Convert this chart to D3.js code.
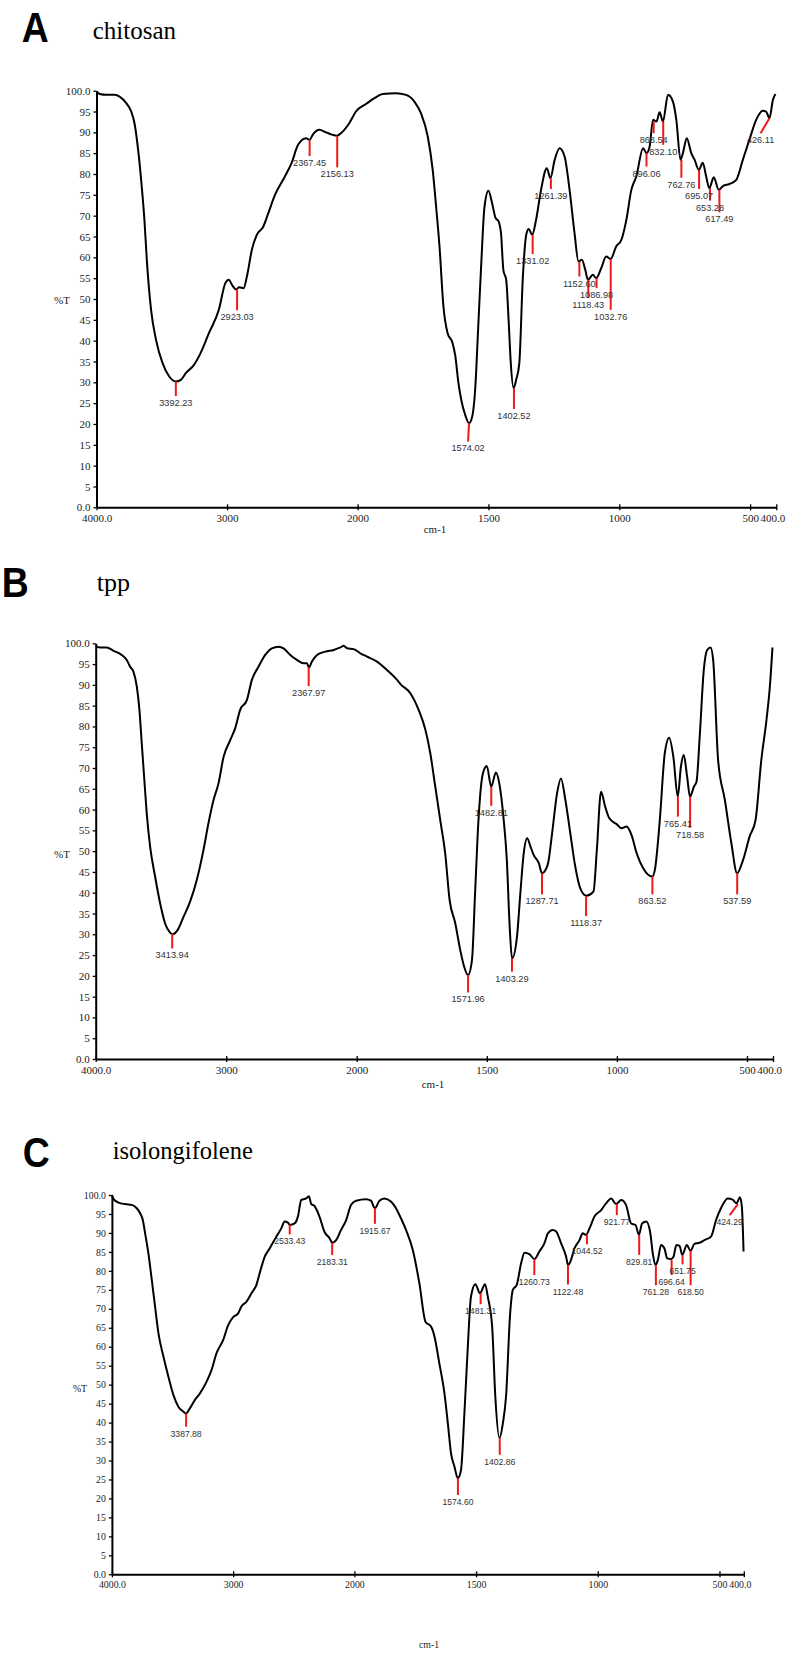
<!DOCTYPE html>
<html><head><meta charset="utf-8">
<script src="https://cdn.jsdelivr.net/npm/d3@7"></script>
<style>body{margin:0;background:#fff}svg{display:block}</style>
</head><body><svg id="c" width="787" height="1654"></svg>
<script>
// ---------- DATA ----------
const panelLetters = ["A", "B", "C"];
const panelTitles = ["chitosan", "tpp", "isolongifolene"];
const xTickValues = [4000, 3000, 2000, 1500, 1000, 500, 400];
const xTickLabels = ["4000.0", "3000", "2000", "1500", "1000", "500", "400.0"];
const yTickValues = [0,5,10,15,20,25,30,35,40,45,50,55,60,65,70,75,80,85,90,95,100];
const yTickLabels = ["0.0","5","10","15","20","25","30","35","40","45","50","55","60","65","70","75","80","85","90","95","100.0"];
const xAxisTitle = "cm-1";
const yAxisTitle = "%T";

// spectra: [wavenumber, %T]
const chitosan = [[4000,99.8],[3975,99.2],[3924,99],[3861,99],[3823,98.6],[3772,97],[3734,95],[3709,92.2],[3684,86.6],[3658,78.6],[3633,69],[3613,58.6],[3582,47.4],[3544,40.2],[3494,34.6],[3443,31.4],[3392,30.2],[3354,30.6],[3316,32.2],[3253,34.2],[3203,37],[3139,41.8],[3063,47.4],[3013,53.8],[2987,54.6],[2962,53.4],[2932,52.3],[2906,52.8],[2873,52.6],[2848,55.4],[2810,61.8],[2772,65.4],[2722,67.4],[2684,70.6],[2633,75],[2557,79.4],[2506,82.6],[2456,87],[2395,88.6],[2368,88.2],[2344,89.4],[2293,90.6],[2242,90],[2191,89.4],[2158,89.2],[2128,89.8],[2064,92.2],[2013,95],[1968,96.8],[1936,98.2],[1904,99.2],[1853,99.4],[1815,99],[1783,97.4],[1758,94.6],[1732,89],[1713,81],[1700,72.2],[1687,62.6],[1672,48.2],[1656,41.8],[1638,39.6],[1627,36.5],[1615,30],[1603,25.5],[1590,22.4],[1574,20.2],[1562,21.8],[1550,29],[1540,42],[1528,57.8],[1515,72.2],[1500,76],[1486,73],[1473,69.5],[1461,68.6],[1452,65.8],[1443,57],[1432,54.5],[1423,45],[1415,35],[1404,28.6],[1394,30.6],[1382,34.6],[1369,54.6],[1355,65.6],[1346,66.8],[1333,65.4],[1318,69],[1299,76.2],[1277,81.4],[1263,79],[1247,83.4],[1228,86.2],[1209,84.2],[1190,76.2],[1171,65.8],[1156,59],[1143,59.4],[1130,57],[1120,54.6],[1101,55.8],[1088,55],[1069,57.4],[1050,60.2],[1033,59.6],[1012,62.6],[992,64.2],[973,69],[954,76.2],[935,79.4],[909,86.2],[896,85],[884,86.6],[871,93],[858,92.6],[846,94.8],[833,92.6],[814,99],[795,97.4],[782,93],[766,83.4],[757,85],[742,88.6],[725,85],[712,83.4],[696,81],[681,82.7],[668,79.4],[656,76.6],[639,79.2],[620,76.2],[604,77.1],[579,77.6],[553,78.6],[528,83.4],[503,88.2],[477,93],[452,95.2],[439,95],[426,93.4],[413,97.8],[403,99.2]];

const tpp = [[4000,99.4],[3967,99],[3916,99],[3864,98.2],[3801,97.2],[3762,96],[3737,94.4],[3711,93.2],[3685,89.6],[3665,84],[3647,75.9],[3629,67.9],[3609,59.1],[3583,51.1],[3545,43.9],[3506,37.4],[3468,32.6],[3430,30.4],[3412,30],[3373,31],[3327,34.2],[3276,37.9],[3225,43.1],[3174,50.3],[3136,56.7],[3097,62.3],[3059,66.3],[3020,72.7],[2969,76.7],[2931,79.6],[2893,84],[2841,86.4],[2803,91.2],[2752,94.4],[2701,97.2],[2650,98.8],[2598,99.2],[2560,98.8],[2509,97.2],[2458,96],[2407,95.2],[2381,95.2],[2366,94.2],[2343,95.6],[2304,97.2],[2240,98],[2176,98.4],[2125,99],[2100,99.4],[2074,98.8],[2023,98.6],[1986,97.6],[1960,96.8],[1922,95.6],[1884,93.6],[1845,91.2],[1832,90.2],[1794,88],[1762,84],[1736,79.2],[1717,73.5],[1698,65.5],[1679,57.5],[1660,49.5],[1643,38.3],[1621,32.6],[1602,26.2],[1587,22.2],[1572,20.2],[1557,23.8],[1545,39.9],[1532,57.5],[1515,68.7],[1500,70.5],[1483,65.5],[1465,68.9],[1452,66.3],[1435,57.5],[1423,47.9],[1412,31.8],[1403,24.2],[1384,29.4],[1371,39.9],[1358,49.5],[1345,53.1],[1332,51.1],[1320,49.1],[1300,47.1],[1288,44.7],[1266,46.7],[1249,54.3],[1230,63.9],[1215,67.5],[1198,62.3],[1179,54.3],[1160,46.3],[1141,41.1],[1118,39.3],[1090,40.3],[1077,50.3],[1061,64.3],[1045,60.7],[1029,57.9],[1001,56.5],[982,55.5],[963,55.9],[944,53.9],[924,49.5],[899,45.9],[864,43.9],[854,45.5],[835,57.5],[816,73.5],[799,77.3],[783,72.7],[766,63.1],[754,70.3],[743,73.1],[730,67.9],[719,63.1],[704,65.5],[694,66.7],[681,78.3],[666,93.6],[653,98.4],[640,99],[630,96],[611,71.9],[585,62.3],[560,51.9],[538,44.7],[515,47.9],[490,53.5],[467,57.5],[445,71.9],[425,81.6],[412,89.6],[402,99]];

const isolongifolene = [[4000,100],[3986,98.9],[3945,98],[3890,97.6],[3836,97.4],[3795,96.5],[3767,95.2],[3745,93.4],[3726,89.9],[3699,84.6],[3671,77.6],[3644,70.6],[3616,63.5],[3575,57.4],[3534,52.1],[3493,47.3],[3452,44.2],[3411,42.9],[3389,42.4],[3356,43.8],[3315,46],[3274,47.7],[3219,50.8],[3178,53.9],[3137,58.3],[3082,61.8],[3041,65.7],[3000,67.8],[2959,68.8],[2932,70.6],[2890,71.9],[2849,74.1],[2808,76.3],[2781,79.4],[2740,83.7],[2699,85.9],[2644,89],[2603,91.2],[2575,93],[2548,92.7],[2533,92.1],[2493,92.5],[2466,94.3],[2438,98.7],[2397,99.1],[2375,99.7],[2356,97.6],[2329,97.1],[2288,94.3],[2247,90.3],[2205,88.6],[2183,87.4],[2151,88.1],[2110,90.8],[2068,93.4],[2027,97.4],[1993,98.5],[1952,98.9],[1932,98.5],[1916,96.5],[1897,98.5],[1877,99.1],[1849,98.2],[1829,96.5],[1815,94.7],[1788,90.8],[1760,85.5],[1733,76.7],[1708,66.6],[1685,65.3],[1671,62.7],[1651,55.6],[1630,47.7],[1616,39.8],[1603,31.9],[1589,28.4],[1575,25.3],[1562,27.5],[1548,42.4],[1534,60],[1521,73.2],[1503,76.5],[1484,74.1],[1463,76.5],[1452,73.2],[1434,65.3],[1421,46.8],[1404,35.9],[1390,39.8],[1377,46.8],[1360,68.8],[1349,75],[1333,76.3],[1315,82],[1301,84.8],[1281,84.4],[1260,83.1],[1240,85.1],[1219,87.3],[1205,89.9],[1185,90.8],[1171,90.4],[1151,87.3],[1130,83.7],[1122,81.5],[1110,82.9],[1096,85.9],[1075,88.1],[1062,89.9],[1048,89.5],[1034,91.2],[1014,94.3],[986,96],[966,97.8],[945,99.1],[925,97.6],[904,98.7],[884,97.4],[863,92.5],[845,92.1],[831,89.5],[818,92.5],[801,93],[785,90.3],[774,84.6],[763,81.5],[753,82.9],[740,86.8],[726,85.9],[715,83.3],[699,83.1],[689,83.7],[677,86.8],[664,86.6],[653,84.2],[634,86.8],[619,85.3],[603,87.1],[582,87.4],[562,88.1],[534,89.1],[514,93.4],[494,96.5],[466,99.1],[446,98.8],[430,97.8],[416,99.4],[408,96.9],[401,85.1]];

// peak markers: [wavenumber, %T at curve, %T at line end, (optional) wavenumber at line end]
const chitosanPeaks = [[3392.23,30.2,26.7],[2923.03,52.3,47.3],[2367.45,88.2,84.3],[2156.13,89.2,81.6],[1574.02,20.2,15.8,1578],[1402.52,28.6,23.6],[1331.02,65.4,60.8],[1261.39,79,76.4],[1152.60,59,55.4],[1118.43,54.6,50.2],[1086.98,55,52.6],[1032.76,59.6,47.4],[896.06,85,81.8],[868.54,92.6,89.8],[832.10,92.6,87],[762.76,83.4,79.1],[695.07,81,76.4],[653.28,76.6,73.6],[617.49,76.2,70.8],[426.11,93.4,89.8,460]];
const tppPeaks = [[3413.94,30.1,26.6],[2367.97,94.2,89.7],[1571.96,20.2,16],[1482.81,65.5,60.9],[1403.29,24.2,21],[1287.71,44.7,39.6],[1118.37,39.2,34.4],[863.52,43.9,39.6],[765.41,63.1,58.3],[718.58,63.1,55.6],[537.59,44.7,39.6]];
const isolongifolenePeaks = [[3387.88,42.4,38.9],[2533.43,92.2,89.6],[2183.31,87.4,84.2],[1915.67,96.5,92.4],[1574.60,25.3,20.9],[1481.31,74.1,71.2],[1402.86,35.9,31.5],[1260.73,83.1,78.9],[1122.48,81.5,76.4],[1044.52,89.6,87],[921.77,97.6,94.7],[829.81,89.5,84.2],[761.28,81.5,76.2],[696.64,82.9,78.9],[651.75,84.2,81.7],[618.50,85.3,76.2],[424.29,97.6,94.7,458]];

// ---------- LAYOUT ----------
const layouts = [
  {x0:96.5, xm:357.6, x1:776.3, yt:90.7, yb:507.3, letter:[21.7,41.7], title:[92.7,38.5], ylab:[62,304], xlab:[435,533], tick:11, peakFs:9.2, titleFs:25},
  {x0:95.7, xm:356.7, x1:773,  yt:643.3, yb:1059, letter:[1.7,596.7], title:[96.7,591], ylab:[62,858], xlab:[433,1088], tick:11, peakFs:9.2, titleFs:26},
  {x0:111.9, xm:354.4, x1:743.8, yt:1195, yb:1574.3, letter:[22.7,1166.5], title:[112.7,1159], ylab:[80,1392], xlab:[429,1648], tick:9.8, peakFs:8.6, titleFs:24.5}
];
const spectra = [chitosan, tpp, isolongifolene];
const peaks = [chitosanPeaks, tppPeaks, isolongifolenePeaks];

const svg = d3.select("#c");
const serif = "'Liberation Serif', 'Times New Roman', serif";
const sans = "'Liberation Sans', Arial, sans-serif";

layouts.forEach((L, i) => {
  const x = d3.scaleLinear().domain([4000, 2000, 400]).range([L.x0, L.xm, L.x1]);
  const y = d3.scaleLinear().domain([0, 100]).range([L.yb, L.yt]);
  const g = svg.append("g");

  // panel letter & title
  g.append("text").attr("x", L.letter[0]).attr("y", L.letter[1])
    .style("font-family", sans).style("font-weight", 700)
    .style("font-size", "43px").attr("textLength", 27).attr("lengthAdjust", "spacingAndGlyphs")
    .text(panelLetters[i]);
  g.append("text").attr("x", L.title[0]).attr("y", L.title[1])
    .style("font-family", serif).style("font-size", L.titleFs + "px").text(panelTitles[i]);

  // y axis
  const ya = g.append("g").attr("transform", `translate(${L.x0},0)`)
    .call(d3.axisLeft(y).tickValues(yTickValues).tickFormat((d, k) => yTickLabels[k])
      .tickSizeInner(3).tickSizeOuter(0).tickPadding(3));
  ya.select(".domain").attr("stroke", "#000").attr("stroke-width", 2);
  ya.selectAll(".tick line").attr("stroke", "#000").attr("stroke-width", 1.3);
  ya.selectAll(".tick text").style("font-family", serif).style("font-size", L.tick + "px").attr("fill", "#222");

  // x axis
  const xa = g.append("g").attr("transform", `translate(0,${L.yb})`)
    .call(d3.axisBottom(x).tickValues(xTickValues).tickFormat((d, k) => xTickLabels[k])
      .tickSizeInner(3).tickSizeOuter(0).tickPadding(4));
  xa.select(".domain").attr("stroke", "#000").attr("stroke-width", 2);
  xa.selectAll(".tick line").attr("stroke", "#000").attr("stroke-width", 1.3).attr("y1", -3);
  xa.selectAll(".tick text").style("font-family", serif).style("font-size", L.tick + "px").attr("fill", "#222")
    .attr("dx", (d) => d === 400 ? -4 : 0);

  // axis titles
  g.append("text").attr("x", L.ylab[0]).attr("y", L.ylab[1]).attr("text-anchor", "middle")
    .style("font-family", serif).style("font-size", L.tick + "px").attr("fill", "#222").text(yAxisTitle);
  g.append("text").attr("x", L.xlab[0]).attr("y", L.xlab[1]).attr("text-anchor", "middle")
    .style("font-family", serif).style("font-size", L.tick + "px").attr("fill", "#222").text(xAxisTitle);

  // spectrum
  const line = d3.line().x(d => x(d[0])).y(d => y(d[1])).curve(d3.curveMonotoneX);
  g.append("path").datum(spectra[i]).attr("d", line)
    .attr("fill", "none").attr("stroke", "#000").attr("stroke-width", 2).attr("stroke-linejoin", "round");

  // peak markers
  const pg = g.append("g");
  pg.selectAll("line").data(peaks[i]).join("line")
    .attr("x1", d => x(d[0])).attr("y1", d => y(d[1]))
    .attr("x2", d => x(d[3] || d[0])).attr("y2", d => y(d[2]))
    .attr("stroke", "#f01818").attr("stroke-width", 2);
  pg.selectAll("text").data(peaks[i]).join("text")
    .attr("x", d => x(d[3] || d[0])).attr("y", d => y(d[2]) + 10)
    .attr("text-anchor", "middle").style("font-family", sans).style("font-size", L.peakFs + "px")
    .attr("fill", "#333").text(d => d[0].toFixed(2));
});
</script>
</body></html>
